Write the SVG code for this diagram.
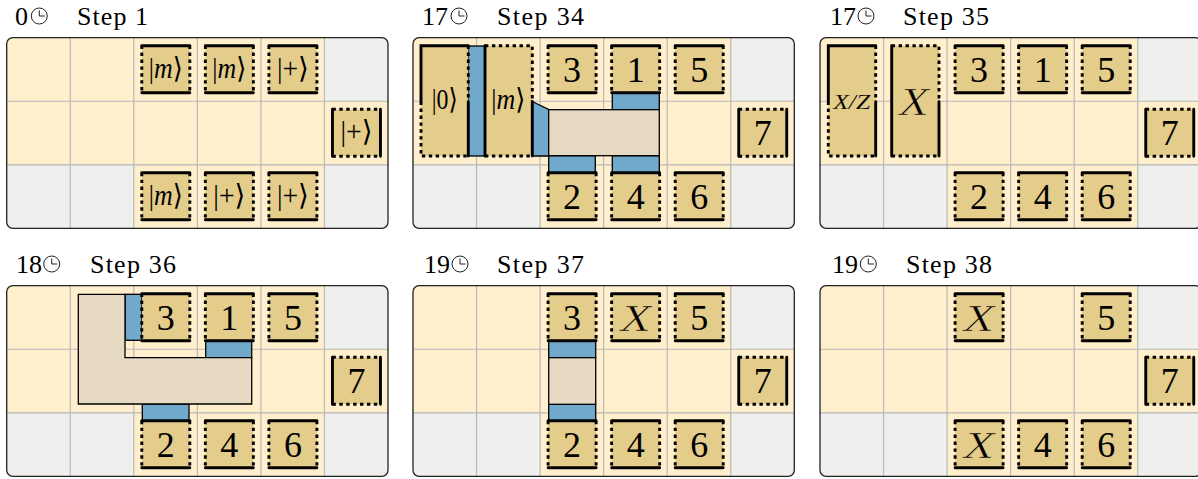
<svg xmlns="http://www.w3.org/2000/svg" xmlns:xlink="http://www.w3.org/1999/xlink" width="1198" height="479" viewBox="0 0 1198 479">
<style>
text{font-family:"Liberation Serif","DejaVu Serif",serif;fill:#000}
.t{font-size:26px}
.n{font-size:36px;text-anchor:middle}
.k{font-size:29px;text-anchor:middle}
.i{font-style:italic}
.xs{font-size:37px;font-style:italic;text-anchor:middle;stroke:#E4CD8B;stroke-width:.7px}
.xl{font-size:41px;font-style:italic;text-anchor:middle;stroke:#E4CD8B;stroke-width:.7px}
.xz{font-size:21px;font-style:italic;text-anchor:middle;stroke:#E4CD8B;stroke-width:.12px}
.g{fill:#E4CD8B}
.s{fill:none;stroke:#000;stroke-width:2.9;stroke-linecap:round}
.d{fill:none;stroke:#000;stroke-width:2.9;stroke-dasharray:3.4 3.5}
.b{fill:#70A9CB;stroke:#000;stroke-width:1.3}
.m{fill:#E6DAC3;stroke:#000;stroke-width:1.3}
.c{fill:none;stroke:#222;stroke-width:1}
</style>
<defs>
<clipPath id="rc"><rect width="381.3" height="190.6" rx="6"/></clipPath>
<g id="board">
<g clip-path="url(#rc)">
<rect width="381.3" height="190.6" fill="#FFEFCC"/>
<path fill="#EFEFEE" d="M317.75 0H381.3V63.55H317.75ZM0 127.1H127.1V190.6H0ZM317.75 127.1H381.3V190.6H317.75Z"/>
<path fill="none" stroke="#B8B8B8" stroke-width="1.2" d="M63.55 0V190.6M127.1 0V190.6M190.65 0V190.6M254.2 0V190.6M317.75 0V190.6M0 63.55H381.3M0 127.1H381.3"/>
</g>
<rect width="381.3" height="190.6" rx="6" fill="none" stroke="#222" stroke-width="1.3"/>
</g>
<g id="ph"><rect class="g" x="8" y="8" width="48" height="47"/><path class="d" d="M8 8V55M56 8V55"/><path class="s" d="M8 8H56M8 55H56"/></g>
<g id="pv"><rect class="g" x="8" y="8" width="48" height="47"/><path class="d" d="M8 8H56M8 55H56"/><path class="s" d="M8 8V55M56 8V55"/></g>
<g id="clock"><circle class="c" r="8"/><path class="c" d="M0 -5.5V0H5.5"/></g>
</defs>

<g id="panel1">
<text class="t" x="15" y="25">0</text><use href="#clock" x="39.3" y="16"/><text class="t" x="77" y="25" textLength="71" lengthAdjust="spacing">Step 1</text>
<g transform="translate(6.7 37.7)">
<use href="#board"/>
<g id="p1-a" transform="translate(127.1 0)"><use href="#ph"/><text class="k" x="32" y="40" textLength="34" lengthAdjust="spacingAndGlyphs">|<tspan class="i">m</tspan>⟩</text></g>
<g id="p1-b" transform="translate(190.65 0)"><use href="#ph"/><text class="k" x="32" y="40" textLength="34" lengthAdjust="spacingAndGlyphs">|<tspan class="i">m</tspan>⟩</text></g>
<g id="p1-c" transform="translate(254.2 0)"><use href="#ph"/><text class="k" x="32" y="40" textLength="32" lengthAdjust="spacingAndGlyphs">|+⟩</text></g>
<g id="p1-d" transform="translate(317.75 63.55)"><use href="#pv"/><text class="k" x="32" y="40" textLength="32" lengthAdjust="spacingAndGlyphs">|+⟩</text></g>
<g id="p1-e" transform="translate(127.1 127.1)"><use href="#ph"/><text class="k" x="32" y="40" textLength="34" lengthAdjust="spacingAndGlyphs">|<tspan class="i">m</tspan>⟩</text></g>
<g id="p1-f" transform="translate(190.65 127.1)"><use href="#ph"/><text class="k" x="32" y="40" textLength="32" lengthAdjust="spacingAndGlyphs">|+⟩</text></g>
<g id="p1-g" transform="translate(254.2 127.1)"><use href="#ph"/><text class="k" x="32" y="40" textLength="32" lengthAdjust="spacingAndGlyphs">|+⟩</text></g>
</g>
</g>

<g id="panel2">
<text class="t" x="422" y="25" textLength="26" lengthAdjust="spacing">17</text><use href="#clock" x="459" y="16"/><text class="t" x="497" y="25" textLength="87" lengthAdjust="spacing">Step 34</text>
<g transform="translate(413 37.7)">
<use href="#board"/>
<g id="p2-merge">
<rect class="b" x="55.3" y="8.3" width="16.7" height="110"/>
<path class="b" d="M119.3 63.8L136 72V118.3H119.3Z"/>
<rect class="b" x="199.3" y="55" width="47" height="17"/>
<rect class="b" x="135.7" y="118" width="46.6" height="17"/>
<rect class="b" x="199.3" y="118" width="47" height="17"/>
<rect class="m" x="135.7" y="72" width="110.6" height="46"/>
</g>
<g id="p2-zero"><rect class="g" x="8" y="8" width="47.3" height="110.3"/><path class="d" d="M8 64V118.3H55.3M55.3 8V63"/><path class="s" d="M8 64V8H55.3M55.3 64V118.3"/><text class="k" x="31.8" y="71" textLength="26" lengthAdjust="spacingAndGlyphs">|0⟩</text></g>
<g id="p2-m"><rect class="g" x="72" y="8" width="47.3" height="110.3"/><path class="d" d="M72 8H119.3V63M72 118.3H119.3"/><path class="s" d="M72 8V118.3M119.3 63.8V118.3"/><text class="k" x="95.3" y="71" textLength="34" lengthAdjust="spacingAndGlyphs">|<tspan class="i">m</tspan>⟩</text></g>
<g id="p2-3" transform="translate(127.1 0)"><use href="#ph"/><text class="n" x="32" y="44">3</text></g>
<g id="p2-1" transform="translate(190.65 0)"><use href="#ph"/><text class="n" x="32" y="44">1</text></g>
<g id="p2-5" transform="translate(254.2 0)"><use href="#ph"/><text class="n" x="32" y="44">5</text></g>
<g id="p2-7" transform="translate(317.75 63.55)"><use href="#pv"/><text class="n" x="32" y="44">7</text></g>
<g id="p2-2" transform="translate(127.1 127.1)"><use href="#ph"/><text class="n" x="32" y="44">2</text></g>
<g id="p2-4" transform="translate(190.65 127.1)"><use href="#ph"/><text class="n" x="32" y="44">4</text></g>
<g id="p2-6" transform="translate(254.2 127.1)"><use href="#ph"/><text class="n" x="32" y="44">6</text></g>
</g>
</g>

<g id="panel3">
<text class="t" x="830" y="25" textLength="26" lengthAdjust="spacing">17</text><use href="#clock" x="866" y="16"/><text class="t" x="903" y="25" textLength="86" lengthAdjust="spacing">Step 35</text>
<g transform="translate(820 37.7)">
<use href="#board"/>
<g id="p3-xz"><rect class="g" x="8.3" y="8" width="47.4" height="110.3"/><path class="d" d="M8.3 64V118.3H55.7M55.7 8V63"/><path class="s" d="M8.3 64V8H55.7M55.7 64V118.3"/><text class="xz" x="31.7" y="71" textLength="37" lengthAdjust="spacingAndGlyphs">X/Z</text></g>
<g id="p3-x"><rect class="g" x="71.7" y="8" width="47.3" height="110.3"/><path class="d" d="M71.7 8H119V63M71.7 118.3H119"/><path class="s" d="M71.7 8V118.3M119 64V118.3"/><text class="xl" x="94" y="77" textLength="30" lengthAdjust="spacingAndGlyphs">X</text></g>
<g id="p3-3" transform="translate(127.1 0)"><use href="#ph"/><text class="n" x="32" y="44">3</text></g>
<g id="p3-1" transform="translate(190.65 0)"><use href="#ph"/><text class="n" x="32" y="44">1</text></g>
<g id="p3-5" transform="translate(254.2 0)"><use href="#ph"/><text class="n" x="32" y="44">5</text></g>
<g id="p3-7" transform="translate(317.75 63.55)"><use href="#pv"/><text class="n" x="32" y="44">7</text></g>
<g id="p3-2" transform="translate(127.1 127.1)"><use href="#ph"/><text class="n" x="32" y="44">2</text></g>
<g id="p3-4" transform="translate(190.65 127.1)"><use href="#ph"/><text class="n" x="32" y="44">4</text></g>
<g id="p3-6" transform="translate(254.2 127.1)"><use href="#ph"/><text class="n" x="32" y="44">6</text></g>
</g>
</g>

<g id="panel4">
<text class="t" x="16" y="273" textLength="26" lengthAdjust="spacing">18</text><use href="#clock" x="51.7" y="264"/><text class="t" x="90" y="273" textLength="86" lengthAdjust="spacing">Step 36</text>
<g transform="translate(6.7 285.7)">
<use href="#board"/>
<g id="p4-merge">
<rect class="b" x="118.3" y="8.6" width="16.7" height="46"/>
<rect class="b" x="199" y="55" width="46" height="17"/>
<rect class="b" x="135.6" y="118.3" width="46.7" height="17"/>
<path class="m" d="M71.6 8.6H118.3V72H245V118.3H71.6Z"/>
</g>
<g id="p4-3" transform="translate(127.1 0)"><use href="#ph"/><text class="n" x="32" y="44">3</text></g>
<g id="p4-1" transform="translate(190.65 0)"><use href="#ph"/><text class="n" x="32" y="44">1</text></g>
<g id="p4-5" transform="translate(254.2 0)"><use href="#ph"/><text class="n" x="32" y="44">5</text></g>
<g id="p4-7" transform="translate(317.75 63.55)"><use href="#pv"/><text class="n" x="32" y="44">7</text></g>
<g id="p4-2" transform="translate(127.1 127.1)"><use href="#ph"/><text class="n" x="32" y="44">2</text></g>
<g id="p4-4" transform="translate(190.65 127.1)"><use href="#ph"/><text class="n" x="32" y="44">4</text></g>
<g id="p4-6" transform="translate(254.2 127.1)"><use href="#ph"/><text class="n" x="32" y="44">6</text></g>
</g>
</g>

<g id="panel5">
<text class="t" x="424" y="273" textLength="26" lengthAdjust="spacing">19</text><use href="#clock" x="460" y="264"/><text class="t" x="497" y="273" textLength="87" lengthAdjust="spacing">Step 37</text>
<g transform="translate(413 285.7)">
<use href="#board"/>
<g id="p5-merge">
<rect class="b" x="135.7" y="55" width="47" height="17"/>
<rect class="b" x="135.7" y="118.6" width="47" height="17"/>
<rect class="m" x="135.7" y="72" width="47" height="46.6"/>
</g>
<g id="p5-3" transform="translate(127.1 0)"><use href="#ph"/><text class="n" x="32" y="44">3</text></g>
<g id="p5-x" transform="translate(190.65 0)"><use href="#ph"/><text class="xs" x="32" y="45" textLength="31" lengthAdjust="spacingAndGlyphs">X</text></g>
<g id="p5-5" transform="translate(254.2 0)"><use href="#ph"/><text class="n" x="32" y="44">5</text></g>
<g id="p5-7" transform="translate(317.75 63.55)"><use href="#pv"/><text class="n" x="32" y="44">7</text></g>
<g id="p5-2" transform="translate(127.1 127.1)"><use href="#ph"/><text class="n" x="32" y="44">2</text></g>
<g id="p5-4" transform="translate(190.65 127.1)"><use href="#ph"/><text class="n" x="32" y="44">4</text></g>
<g id="p5-6" transform="translate(254.2 127.1)"><use href="#ph"/><text class="n" x="32" y="44">6</text></g>
</g>
</g>

<g id="panel6">
<text class="t" x="832" y="273" textLength="26" lengthAdjust="spacing">19</text><use href="#clock" x="868.3" y="264"/><text class="t" x="906" y="273" textLength="86" lengthAdjust="spacing">Step 38</text>
<g transform="translate(820 285.7)">
<use href="#board"/>
<g id="p6-x1" transform="translate(127.1 0)"><use href="#ph"/><text class="xs" x="32" y="45" textLength="31" lengthAdjust="spacingAndGlyphs">X</text></g>
<g id="p6-5" transform="translate(254.2 0)"><use href="#ph"/><text class="n" x="32" y="44">5</text></g>
<g id="p6-7" transform="translate(317.75 63.55)"><use href="#pv"/><text class="n" x="32" y="44">7</text></g>
<g id="p6-x2" transform="translate(127.1 127.1)"><use href="#ph"/><text class="xs" x="32" y="45" textLength="31" lengthAdjust="spacingAndGlyphs">X</text></g>
<g id="p6-4" transform="translate(190.65 127.1)"><use href="#ph"/><text class="n" x="32" y="44">4</text></g>
<g id="p6-6" transform="translate(254.2 127.1)"><use href="#ph"/><text class="n" x="32" y="44">6</text></g>
</g>
</g>
</svg>
